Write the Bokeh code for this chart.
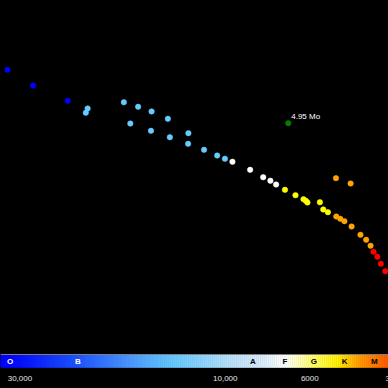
import numpy as np
from bokeh.plotting import figure
from bokeh.models import Range1d, Span
from bokeh.core.properties import value
from bokeh.embed import file_html
from bokeh.resources import INLINE

# ---- data: temperature (K) and absolute magnitude ----
blue_temp = [31900, 28100, 23600]
blue_mag = [-6.05, -4.85, -3.67]

lightblue_temp = [21300, 21500, 17600, 16300, 15150, 13850, 17000, 15200, 13700,
                  12350, 12370, 11300, 10480, 10020]
lightblue_mag = [-3.08, -2.75, -3.56, -3.21, -2.85, -2.28, -1.92, -1.36, -0.87,
                 -1.18, -0.36, 0.10, 0.54, 0.79]

white_temp = [9590, 8640, 7990, 7650, 7390]
white_mag = [1.02, 1.64, 2.21, 2.48, 2.77]

yellow_temp = [7000, 6560, 6240, 6150, 6090, 5630, 5510, 5350]
yellow_mag = [3.18, 3.59, 3.90, 4.02, 4.15, 4.13, 4.69, 4.90]

orange_temp = [5070, 4940, 4810, 4590, 4330, 4170, 4050, 5080, 4620]
orange_mag = [5.23, 5.41, 5.59, 6.00, 6.64, 7.02, 7.48, 2.28, 2.69]

red_temp = [3970, 3870, 3780, 3670]
red_mag = [7.95, 8.33, 8.87, 9.44]

marked_temp = [6860]
marked_mag = [-1.95]
marked_label = ["4.95 Mo"]

class_labels = ["O", "B", "A", "F", "G", "K", "M"]
class_temp = [31500, 22400, 8500, 7000, 5850, 4800, 3950]
class_text_color = ["white", "white", "black", "black", "black", "black", "black"]

tick_temp = [30000, 10000, 6000, 3450]
tick_labels = ["30,000", "10,000", "6000", "3500"]

# ---- scale helper (temperature axis compression) ----
EXP = 0.15
def tx(t):
    return np.asarray(t, dtype=float) ** EXP

T_LEFT, T_RIGHT = 33000, 3590
X0, X1 = float(tx(T_LEFT)), float(tx(T_RIGHT))

p = figure(width=388, height=388, output_backend="svg", toolbar_location=None,
           x_range=Range1d(X0, X1), y_range=Range1d(18.4615, -11.3846),
           min_border=0, background_fill_color="black", border_fill_color="black",
           outline_line_color=None)
p.styles = {"background-color": "black"}
p.axis.visible = False
p.grid.visible = False

# ---- spectral colour bar ----
stops = [
    (0.00, (0, 0, 255)), (0.05, (5, 15, 255)), (0.20, (30, 85, 255)),
    (0.33, (75, 150, 255)), (0.44, (100, 200, 255)), (0.52, (140, 212, 255)),
    (0.59, (185, 225, 250)), (0.67, (215, 235, 250)), (0.735, (255, 255, 255)),
    (0.775, (255, 255, 175)), (0.81, (255, 255, 100)), (0.87, (255, 240, 0)),
    (0.93, (255, 150, 0)), (1.00, (255, 90, 0)),
]
sf = np.array([s[0] for s in stops])
sc = np.array([s[1] for s in stops], dtype=float)
n = 194
edges = np.linspace(X0, X1, n + 1)
mid = (np.arange(n) + 0.5) / n
cols = []
for f in mid:
    r, g, b = (np.interp(f, sf, sc[:, k]) for k in range(3))
    cols.append("#%02x%02x%02x" % (int(r), int(g), int(b)))
BAR_TOP, BAR_BOT = 15.88, 16.846
p.quad(left=edges[:-1], right=edges[1:], top=BAR_TOP, bottom=BAR_BOT,
       fill_color=cols, line_color=cols, line_width=0.6)
p.add_layout(Span(location=15.846, dimension="width", line_color="#808080", line_width=1))

p.text(x=tx(class_temp), y=16.38, text=class_labels, text_color=class_text_color,
       text_font=value("Liberation Sans"), text_font_style="bold",
       text_font_size="8px", text_align="center", text_baseline="middle")

p.text(x=tx(tick_temp), y=17.69, text=tick_labels, text_color="#e6e6e6",
       text_font=value("Liberation Sans"), text_font_size="8px",
       text_align="center", text_baseline="middle")

# ---- stars ----
S = 5.5
for temps, mags, col in [
    (blue_temp, blue_mag, "#0000ff"),
    (lightblue_temp, lightblue_mag, "#66ccff"),
    (white_temp, white_mag, "#ffffff"),
    (yellow_temp, yellow_mag, "#ffff00"),
    (orange_temp, orange_mag, "#ffa500"),
    (red_temp, red_mag, "#ff0000"),
    (marked_temp, marked_mag, "#008000"),
]:
    p.scatter(x=tx(temps), y=mags, size=S, fill_color=col, line_color=col, line_width=0.5)

p.text(x=tx(marked_temp), y=marked_mag, text=marked_label, text_color="white",
       text_font=value("Liberation Sans"), text_font_size="8px",
       text_align="left", text_baseline="middle", x_offset=3, y_offset=-6.5)

open("out.html", "w").write(file_html(p, INLINE))
